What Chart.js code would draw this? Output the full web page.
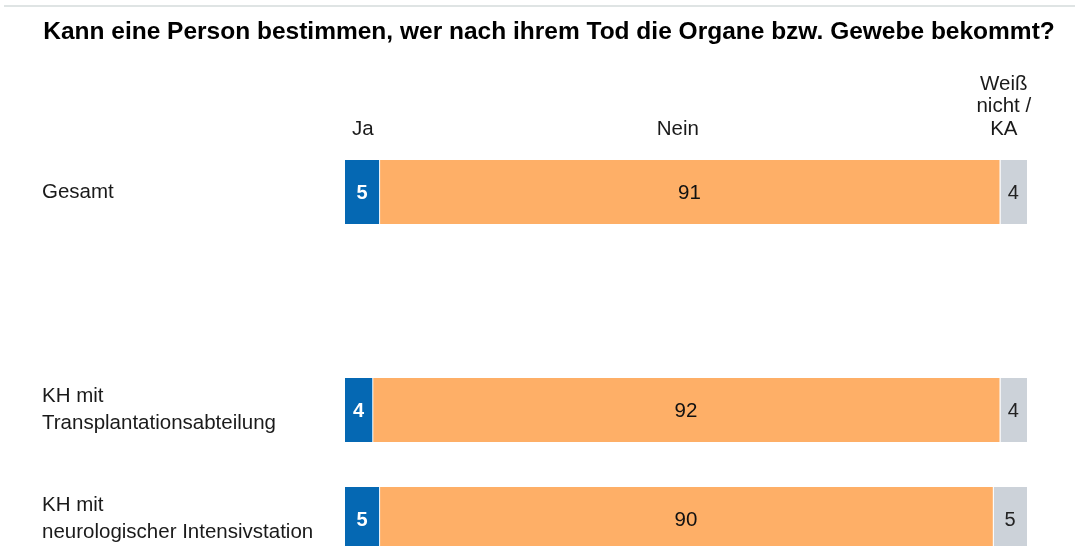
<!DOCTYPE html>
<html>
<head>
<meta charset="utf-8">
<script src="https://cdn.jsdelivr.net/npm/chart.js@4.4.1/dist/chart.umd.min.js"></script>
<style>
  html, body { margin: 0; padding: 0; background: #fff; overflow: hidden; }
  #wrap { position: relative; width: 1075px; height: 546px; overflow: hidden; }
  #topline { position: absolute; left: 4px; right: 0; top: 5px; height: 2px; background: #dfe4e4; }
  #box { position: absolute; left: 0; top: 0; width: 1075px; height: 620px; }
</style>
</head>
<body>
<div id="wrap">
  <div id="topline"></div>
  <div id="box"><canvas id="chart"></canvas></div>
</div>
<script>
// Daten
const categories = ["Gesamt", "", ["KH mit", "Transplantationsabteilung"], ["KH mit", "neurologischer Intensivstation"]];
const seriesNames = ["Ja", "Nein", ["Weiß", "nicht /", "KA"]];
const jaValues = [5, null, 4, 5];
const neinValues = [91, null, 92, 90];
const weissValues = [4, null, 4, 5];

const FONT = "'Liberation Sans', Arial, sans-serif";

// Werte in die Balken schreiben
const valueLabels = {
  id: "valueLabels",
  afterDatasetsDraw(chart) {
    const ctx = chart.ctx;
    ctx.save();
    ctx.textAlign = "center";
    ctx.textBaseline = "middle";
    chart.data.datasets.forEach((ds, i) => {
      const meta = chart.getDatasetMeta(i);
      meta.data.forEach((bar, j) => {
        const v = ds.data[j];
        if (v == null) return;
        ctx.fillStyle = ds.labelColor;
        ctx.font = ds.labelFont;
        ctx.fillText(String(v), (bar.x + bar.base) / 2, bar.y + 1);
      });
    });
    ctx.restore();
  }
};

// Titel und Spaltenköpfe
const headers = {
  id: "headers",
  afterDraw(chart, args, opts) {
    const ctx = chart.ctx;
    const x = chart.scales.x;
    ctx.save();
    ctx.textAlign = "center";
    ctx.textBaseline = "middle";
    ctx.fillStyle = "#000";
    ctx.font = "bold 24.5px " + FONT;
    ctx.fillText(opts.title, 549, 32);
    ctx.font = "20.5px " + FONT;
    ctx.fillStyle = "#1a1a1a";
    seriesNames.forEach((name, i) => {
      const lines = Array.isArray(name) ? name : [name];
      const px = x.getPixelForValue(opts.at[i]);
      lines.forEach((line, k) => {
        const y = opts.baseY - (lines.length - 1 - k) * 22.5;
        ctx.fillText(line, px, y);
      });
    });
    ctx.restore();
  }
};

new Chart(document.getElementById("chart"), {
  type: "bar",
  data: {
    labels: categories,
    datasets: [
      { label: "Ja", data: jaValues, backgroundColor: "#0568b3",
        labelColor: "#fff", labelFont: "bold 20px " + FONT,
        borderWidth: 0 },
      { label: "Nein", data: neinValues, backgroundColor: "#feaf67",
        labelColor: "#111", labelFont: "20.5px " + FONT,
        borderColor: "#fff", borderWidth: { left: 1, right: 0, top: 0, bottom: 0 }, borderSkipped: false },
      { label: "Weiß nicht / KA", data: weissValues, backgroundColor: "#ccd2d9",
        labelColor: "#222", labelFont: "20px " + FONT,
        borderColor: "#fff", borderWidth: { left: 1, right: 0, top: 0, bottom: 0 }, borderSkipped: false }
    ]
  },
  options: {
    indexAxis: "y",
    responsive: true,
    maintainAspectRatio: false,
    animation: false,
    layout: { padding: { top: 137.5, bottom: 46.5, left: 42, right: 48 } },
    datasets: { bar: { categoryPercentage: 1, barPercentage: 0.587 } },
    plugins: {
      legend: { display: false },
      tooltip: { enabled: false },
      headers: {
        title: "Kann eine Person bestimmen, wer nach ihrem Tod die Organe bzw. Gewebe bekommt?",
        at: [2.6, 48.8, 96.6],
        baseY: 129
      }
    },
    scales: {
      x: { stacked: true, min: 0, max: 100, display: false },
      y: {
        stacked: true,
        grid: { display: false },
        border: { display: false },
        afterFit(scale) { scale.width = 303; },
        ticks: {
          crossAlign: "far",
          color: "#1a1a1a",
          font: { family: FONT, size: 20.5, lineHeight: 1.3 }
        }
      }
    }
  },
  plugins: [valueLabels, headers]
});
</script>
</body>
</html>
